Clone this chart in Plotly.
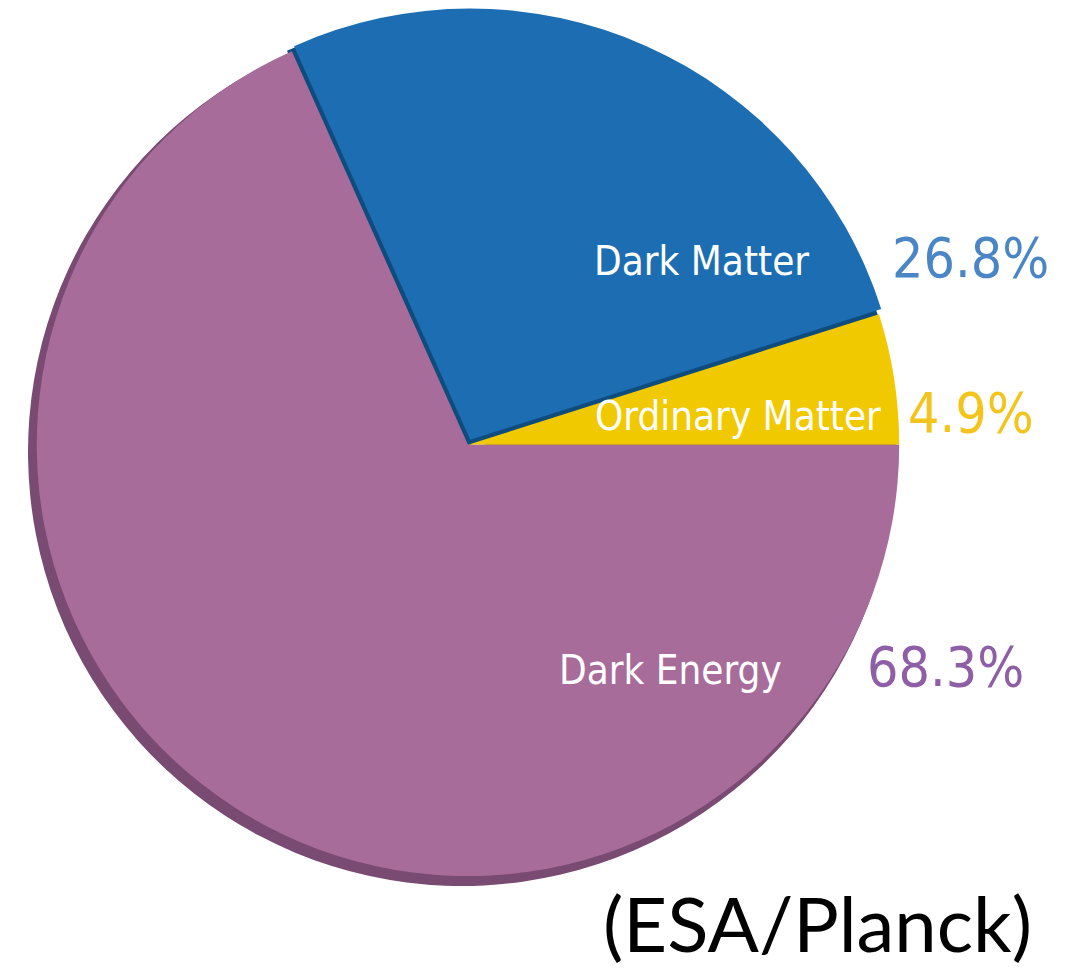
import plotly.graph_objects as go

# page body keeps an 8px default margin, so the figure is drawn 8px in
OFF = 8
W, H = 1074 - OFF, 970 - OFF

labels = ["Ordinary Matter", "Dark Matter", "Dark Energy"]
values = [4.9, 26.8, 68.3]
pulls = [0.0, 0.013, 0.0]
colors = ["#f1c900", "#1c6db1", "#a86c9b"]
shadow_colors = ["#8d7600", "#0e4c7d", "#7a4b72"]
pct_colors = ["#f3c41c", "#4a86c6", "#8e5ea6"]
source_text = "(ESA/Planck)"

# label anchor positions in screen pixels (label center, pct center)
label_pos = [(738, 416), (701, 261), (670, 670)]
pct_pos = [(971, 413), (970, 258), (946, 667)]
source_pos = (817, 970)

CX, CY, R = 468, 442, 434
maxpull = max(pulls)

# first slice (Ordinary Matter) sits just above 3 o'clock, going counterclockwise
start_rot = 90 - 360 * values[0] / sum(values)


def px(x):
    return (x - OFF) / W


def py(y):
    return 1 - (y - OFF) / H


def clamp(v):
    return min(1.0, max(0.0, v))


def dom(cx, cy, r):
    rr = r * (1 + maxpull)
    return dict(x=[clamp(px(cx - rr)), clamp(px(cx + rr))],
                y=[clamp(py(cy + rr)), clamp(py(cy - rr))])


fig = go.Figure()
fig.add_trace(go.Pie(labels=labels, values=values, sort=False,
                     direction="counterclockwise", rotation=start_rot,
                     pull=pulls, marker=dict(colors=shadow_colors, line=dict(width=0)),
                     textinfo="none", hoverinfo="skip", showlegend=False,
                     domain=dom(CX - 6, CY + 10, R)))
fig.add_trace(go.Pie(labels=labels, values=values, sort=False,
                     direction="counterclockwise", rotation=start_rot,
                     pull=pulls, marker=dict(colors=colors, line=dict(width=0)),
                     textinfo="none", hoverinfo="skip", showlegend=False,
                     domain=dom(CX, CY, R)))

FONT = "DejaVu Sans Condensed, Roboto, sans-serif"
for lab, v, (lx, ly), (qx, qy), pc in zip(labels, values, label_pos, pct_pos, pct_colors):
    fig.add_annotation(text=lab, x=px(lx), y=py(ly), xref="paper", yref="paper",
                       xanchor="center", yanchor="middle", showarrow=False,
                       font=dict(family=FONT, size=40, color="white"))
    fig.add_annotation(text=f"{v}%", x=px(qx), y=py(qy), xref="paper", yref="paper",
                       xanchor="center", yanchor="middle", showarrow=False,
                       font=dict(family=FONT, size=55, color=pc))

fig.add_annotation(text=source_text, x=px(source_pos[0]), y=py(source_pos[1]),
                   xref="paper", yref="paper",
                   xanchor="center", yanchor="bottom", showarrow=False,
                   font=dict(family="Lato, Open Sans, sans-serif", size=76, color="black"))

fig.update_layout(width=W, height=H, margin=dict(l=0, r=0, t=0, b=0),
                  paper_bgcolor="white", plot_bgcolor="white", showlegend=False)
fig.write_html("out.html")
